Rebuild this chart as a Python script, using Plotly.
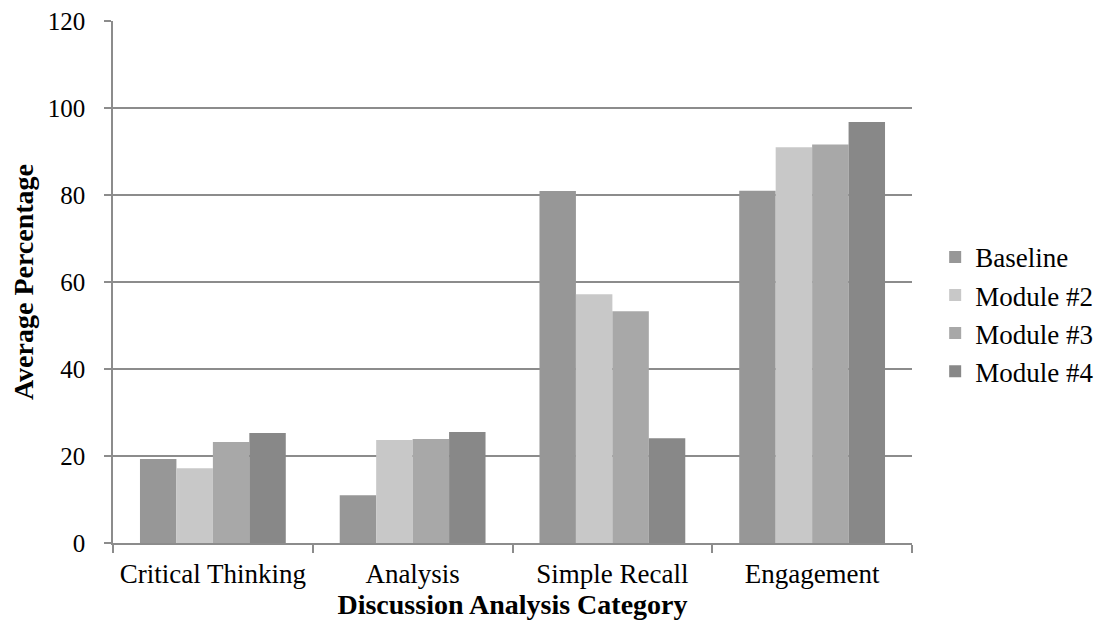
import plotly.graph_objects as go

categories = ["Critical Thinking", "Analysis", "Simple Recall", "Engagement"]
series_names = ["Baseline", "Module #2", "Module #3", "Module #4"]
baseline = [19.3, 11.0, 80.9, 81.0]
module2 = [17.2, 23.7, 57.2, 91.0]
module3 = [23.2, 23.9, 53.3, 91.6]
module4 = [25.3, 25.5, 24.1, 96.8]
y_ticks = [0, 20, 40, 60, 80, 100, 120]

series_values = [baseline, module2, module3, module4]
colors = ["#979797", "#c8c8c8", "#a8a8a8", "#888888"]

FONT = "Liberation Serif, Times New Roman, serif"

fig = go.Figure()
for name, vals, col in zip(series_names, series_values, colors):
    fig.add_trace(go.Bar(
        name=name, x=categories, y=vals,
        marker=dict(color=col, line=dict(width=0)),
    ))

fig.update_layout(
    width=1103, height=631,
    margin=dict(l=105, r=191, t=13, b=96),
    paper_bgcolor="white", plot_bgcolor="white",
    barmode="group", bargap=0.27, bargroupgap=0,
    font=dict(family=FONT, color="black", size=25),
    showlegend=True,
    legend=dict(
        x=1.029, xanchor="left", y=0.438, yanchor="middle",
        font=dict(family=FONT, size=27, color="black"),
        bgcolor="rgba(0,0,0,0)", borderwidth=0,
        itemwidth=30, tracegroupgap=0,
    ),
)

fig.update_xaxes(
    type="category",
    showline=True, linecolor="#8c8c8c", linewidth=1.5,
    ticks="outside", tickson="boundaries", ticklen=8, tickcolor="#8c8c8c", tickwidth=1.5,
    showgrid=False,
    tickfont=dict(family=FONT, size=27, color="black"),
    ticklabelstandoff=6,
    title=dict(text="<b>Discussion Analysis Category</b>",
               font=dict(family=FONT, size=28, color="black"), standoff=1),
    automargin=False,
)

fig.update_yaxes(
    range=[0, 120], tickvals=y_ticks,
    showline=True, linecolor="#8c8c8c", linewidth=1.5,
    ticks="outside", ticklen=7, tickcolor="#8c8c8c", tickwidth=1.5,
    showgrid=True, gridcolor="#8c8c8c", gridwidth=1.5,
    zeroline=False,
    tickfont=dict(family=FONT, size=25, color="black"),
    ticklabelstandoff=14, ticklabeloverflow="allow",
    title=dict(text="<b>Average Percentage</b>",
               font=dict(family=FONT, size=28, color="black"), standoff=10),
    automargin=False,
)

fig.write_html("out.html")
